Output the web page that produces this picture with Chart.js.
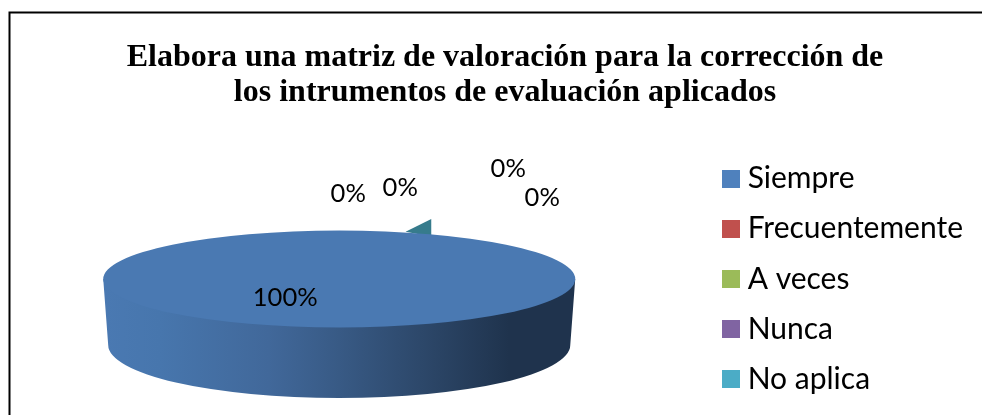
<!DOCTYPE html>
<html><head><meta charset="utf-8">
<style>html,body{margin:0;padding:0;background:#fff;overflow:hidden}#w{position:absolute;left:0;top:0;width:982px;height:415px}</style>
<script src="https://cdn.jsdelivr.net/npm/chart.js@4"></script>
</head><body><div id="w"><canvas id="c" width="982" height="415"></canvas></div>
<script>
const categories = ["Siempre","Frecuentemente","A veces","Nunca","No aplica"];
const values = [100,0,0,0,0];
const sliceColors = ["#4a79b2","#c0504d","#9bbb59","#8064a2","#4bacc6"];
const legendColors = ["#4f81bd","#c0504d","#9bbb59","#8064a2","#4bacc6"];
const titleLines = ["Elabora una matriz de valoración para la corrección de","los intrumentos de evaluación aplicados"];
const labelOffsets = [[-54,19],[9,-85],[61,-91],[169,-110],[203,-81]];

const FLAT = 48.5/236, DEPTH_BOTTOM = 66, BOTTOM_RX = 0.979, BOTTOM_RY = 53/236;

function swatch(color){
  const s = document.createElement('canvas'); s.width = 18; s.height = 18;
  const x = s.getContext('2d'); x.fillStyle = color; x.fillRect(0,0,18,18);
  return s;
}
function geom(chart){
  const a = chart.getDatasetMeta(0).data[0];
  return {x:a.x, y:a.y, r:a.outerRadius};
}
const pie3d = {
  id:'pie3d',
  afterLayout(chart){
    chart.titleBlock.left += 18.5; chart.titleBlock.right += 18.5;
    chart.chartArea.left -= 30;
  },
  beforeDraw(chart){
    const c = chart.ctx;
    c.save(); c.strokeStyle='#000'; c.lineWidth=2;
    c.beginPath(); c.moveTo(9.5,415); c.lineTo(9.5,12.5); c.lineTo(982,12.5); c.stroke(); c.restore();
  },
  beforeDatasetsDraw(chart){
    const {x,y,r} = geom(chart), c = chart.ctx;
    c.save(); c.fillStyle='#367b8c';
    c.beginPath();
    c.moveTo(x+r*0.281,y-r*0.2); c.lineTo(x+r*0.39,y-r*0.254); c.lineTo(x+r*0.39,y-r*0.18); c.closePath(); c.fill();
    const g = c.createLinearGradient(x-r,0,x+r,0);
    g.addColorStop(0,'#4a79b2'); g.addColorStop(0.12,'#4776ad'); g.addColorStop(0.35,'#41689a');
    g.addColorStop(0.5,'#385a85'); g.addColorStop(0.7,'#2b4566'); g.addColorStop(0.86,'#1f334d'); g.addColorStop(1,'#1f334d');
    c.fillStyle=g;
    c.beginPath();
    c.moveTo(x-r,y); c.lineTo(x+r,y);
    c.ellipse(x,y+DEPTH_BOTTOM,r*BOTTOM_RX,r*BOTTOM_RY,0,0,Math.PI,false);
    c.closePath(); c.fill(); c.restore();
    c.save();
    c.translate(x,y); c.scale(1,FLAT); c.translate(-x,-y);
  },
  afterDatasetsDraw(chart){
    chart.ctx.restore();
    const {x,y} = geom(chart), c = chart.ctx;
    const total = values.reduce((s,v)=>s+v,0);
    c.save(); c.fillStyle='#000'; c.font='25.5px Lato'; c.textAlign='center'; c.textBaseline='middle';
    values.forEach((v,i)=>{ c.fillText(Math.round(v/total*100)+'%', x+labelOffsets[i][0], y+labelOffsets[i][1]); });
    c.restore();
  }
};
new Chart(document.getElementById('c'),{
  type:'pie',
  data:{labels:categories,datasets:[{data:values,backgroundColor:sliceColors,borderWidth:0,radius:236,hoverOffset:0}]},
  options:{
    responsive:false,animation:false,
    events:[],
    layout:{padding:{left:0,right:9,top:0,bottom:0}},
    plugins:{
      tooltip:{enabled:false},
      title:{display:true,text:titleLines,color:'#000',
        font:{family:'"Liberation Serif"',size:32,weight:'bold',lineHeight:1.094},padding:{top:40,bottom:33}},
      legend:{position:'right',align:'center',fullSize:false,
        labels:{usePointStyle:true,boxWidth:4,boxHeight:18,padding:20.2,color:'#000',font:{family:'Lato',size:30},
          generateLabels(){return categories.map((t,i)=>({text:t,fillStyle:legendColors[i],strokeStyle:legendColors[i],lineWidth:0,hidden:false,index:i,pointStyle:swatch(legendColors[i])}));}}}
    }
  },
  plugins:[pie3d]
});
</script></body></html>
